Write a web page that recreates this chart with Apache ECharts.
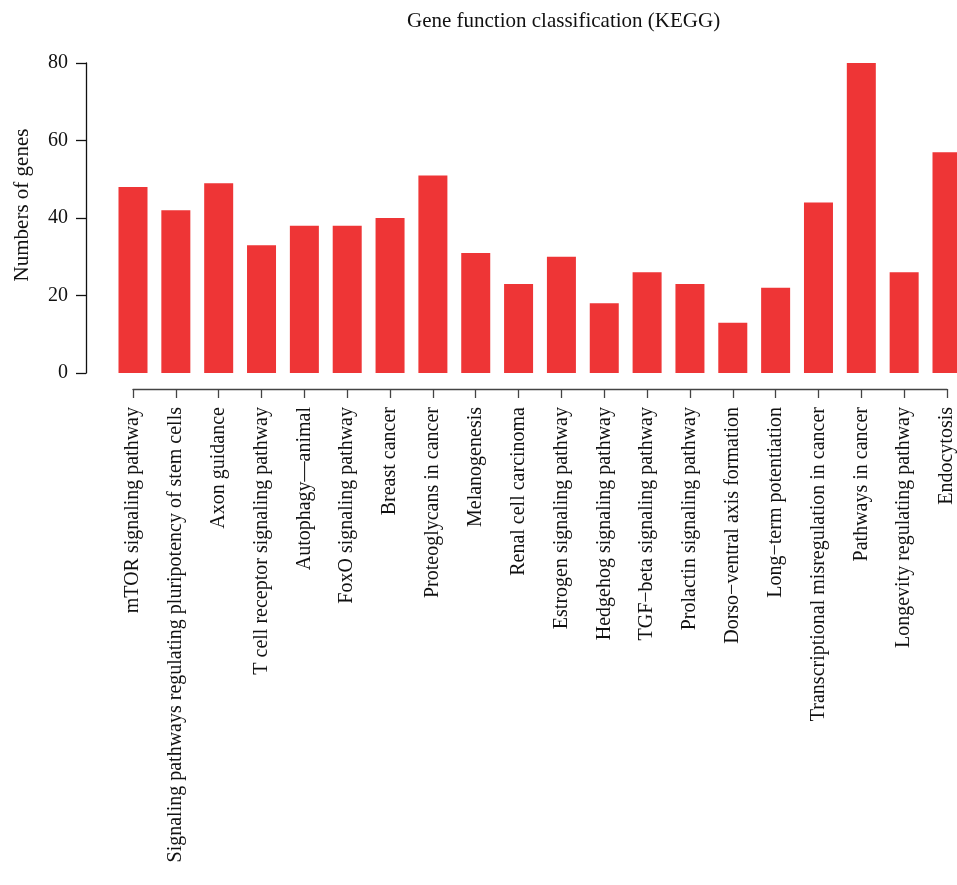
<!DOCTYPE html>
<html>
<head>
<meta charset="utf-8">
<script src="https://cdn.jsdelivr.net/npm/echarts@6/dist/echarts.min.js"></script>
<style>
  html, body { margin: 0; padding: 0; background: #fff; }
  #chart { width: 957px; height: 885px; }
</style>
</head>
<body>
<div id="chart"></div>
<script>
// KEGG pathway categories and the number of genes in each
const categories = [
  'mTOR signaling pathway',
  'Signaling pathways regulating pluripotency of stem cells',
  'Axon guidance',
  'T cell receptor signaling pathway',
  'Autophagy\u2014animal',
  'FoxO signaling pathway',
  'Breast cancer',
  'Proteoglycans in cancer',
  'Melanogenesis',
  'Renal cell carcinoma',
  'Estrogen signaling pathway',
  'Hedgehog signaling pathway',
  'TGF\u2212beta signaling pathway',
  'Prolactin signaling pathway',
  'Dorso\u2212ventral axis formation',
  'Long\u2212term potentiation',
  'Transcriptional misregulation in cancer',
  'Pathways in cancer',
  'Longevity regulating pathway',
  'Endocytosis'
];
const geneCounts = [48, 42, 49, 33, 38, 38, 40, 51, 31, 23, 30, 18, 26, 23, 13, 22, 44, 80, 26, 57];
const yTicks = [0, 20, 40, 60, 80];

const FONT = '"Liberation Serif", "DejaVu Serif", serif';
const chart = echarts.init(document.getElementById('chart'), null, { renderer: 'canvas' });

chart.setOption({
  backgroundColor: '#ffffff',
  animation: false,
  title: {
    text: 'Gene function classification (KEGG)',
    left: 402,
    top: 6,
    textStyle: { fontFamily: FONT, fontSize: 21, fontWeight: 'normal', color: '#111' }
  },
  grid: { left: 133, right: 8, top: 63, bottom: 885 - 373, containLabel: false },
  xAxis: {
    type: 'category',
    data: categories,
    boundaryGap: false,
    offset: 16,
    axisLine: { show: true, onZero: false, lineStyle: { color: '#444', width: 1.3 } },
    axisTick: { show: true, length: 9, alignWithLabel: true, lineStyle: { color: '#444', width: 1.3 } },
    axisLabel: {
      interval: 0,
      rotate: 90,
      margin: 18,
      fontFamily: FONT,
      fontSize: 20,
      color: '#111'
    },
    splitLine: { show: false }
  },
  yAxis: {
    type: 'value',
    min: yTicks[0],
    max: yTicks[yTicks.length - 1],
    interval: 20,
    offset: 47,
    axisLine: { show: true, lineStyle: { color: '#111', width: 1.3 } },
    axisTick: { show: true, length: 10, lineStyle: { color: '#111', width: 1.3 } },
    axisLabel: { margin: 18, fontFamily: FONT, fontSize: 20, color: '#111' },
    splitLine: { show: false }
  },
  graphic: [{
    type: 'text',
    x: 22,
    y: 205,
    rotation: Math.PI / 2,
    style: {
      text: 'Numbers of genes',
      fontFamily: FONT,
      fontSize: 21,
      fill: '#111',
      align: 'center',
      verticalAlign: 'middle'
    }
  }],
  series: [{
    type: 'bar',
    data: geneCounts,
    barWidth: 29,
    clip: false,
    itemStyle: { color: '#EE3536' }
  }]
});
</script>
</body>
</html>
